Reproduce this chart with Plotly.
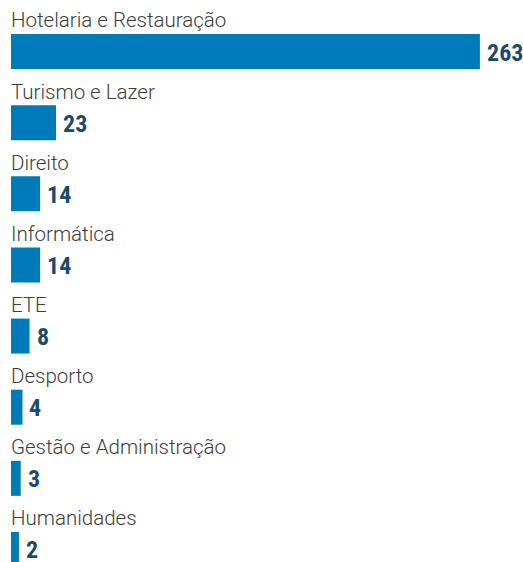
import plotly.graph_objects as go

categories = [
    "Hotelaria e Restauração",
    "Turismo e Lazer",
    "Direito",
    "Informática",
    "ETE",
    "Desporto",
    "Gestão e Administração",
    "Humanidades",
]
values = [263, 23, 14, 14, 8, 4, 3, 2]

BAR_COLOR = "#007bba"
VALUE_COLOR = "#1b4a6b"
LABEL_COLOR = "#3c3c3c"
BASE = -2.5  # small visual stub so tiny bars stay visible

bar_lengths = [v - BASE for v in values]

fig = go.Figure(
    go.Bar(
        x=bar_lengths,
        y=categories,
        base=BASE,
        orientation="h",
        marker=dict(color=BAR_COLOR, line=dict(width=0)),
        width=0.492,
        hoverinfo="skip",
    )
)

for cat, v in zip(categories, values):
    fig.add_annotation(
        x=BASE, y=cat, xref="x", yref="y",
        text=cat, showarrow=False,
        xanchor="left", yanchor="bottom", yshift=17, xshift=-2,
        font=dict(family="Roboto", size=20.5, color=LABEL_COLOR, weight=300),
    )
    fig.add_annotation(
        x=v, y=cat, xref="x", yref="y",
        text=str(v), showarrow=False,
        xanchor="left", yanchor="middle", xshift=5, yshift=-1,
        font=dict(family="Roboto Condensed, Open Sans Condensed, sans-serif",
                  size=24, color=VALUE_COLOR, weight="bold"),
    )

fig.update_layout(
    width=523, height=562,
    margin=dict(l=11, r=0, t=0, b=0),
    paper_bgcolor="white", plot_bgcolor="white",
    showlegend=False,
    xaxis=dict(range=[BASE, 287.4], visible=False, fixedrange=True),
    yaxis=dict(type="category", range=[7.176, -0.724], visible=False, fixedrange=True),
)

fig.write_html(
    "out.html",
    config={"displayModeBar": False},
    post_script="document.body.style.margin='0';document.body.style.overflow='hidden';",
)
